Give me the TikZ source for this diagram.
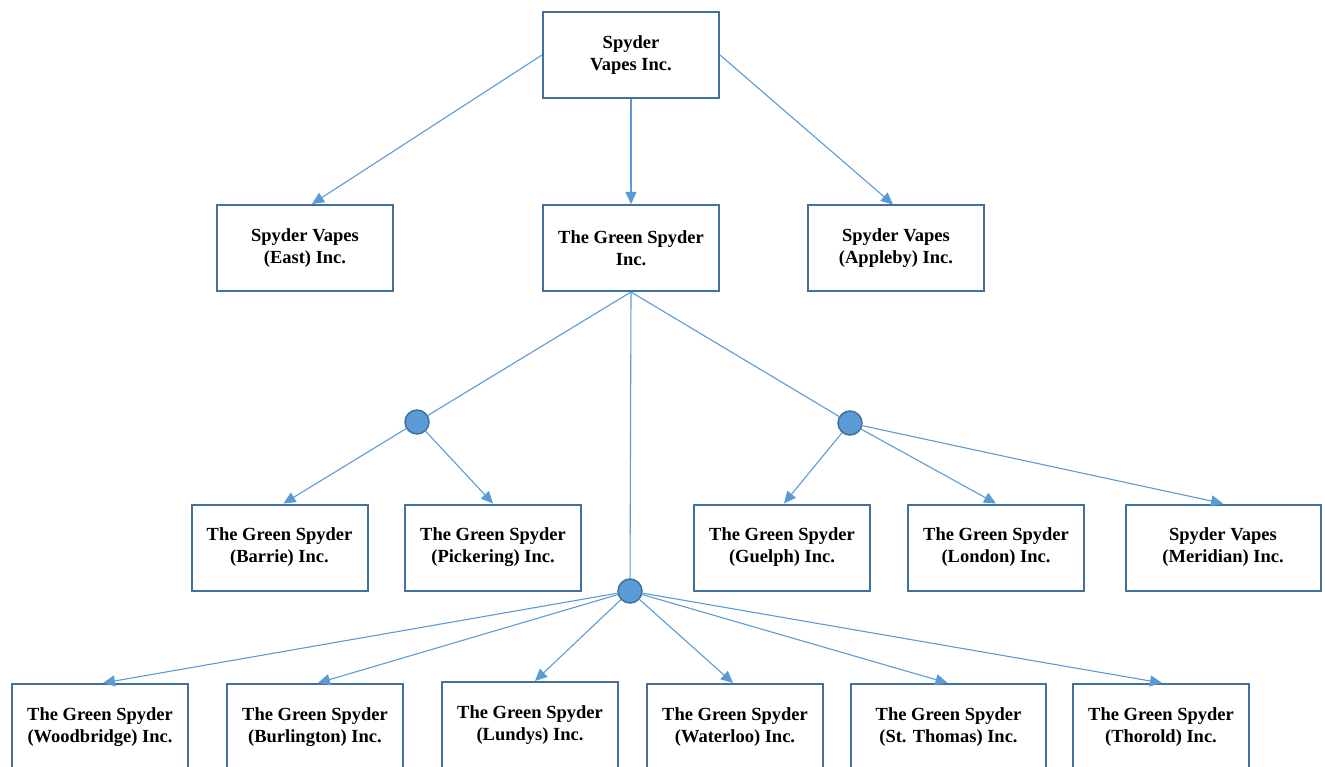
\documentclass[tikz,border=0pt]{standalone}
\usepackage{fontspec}
\setmainfont{Liberation Serif}
\usetikzlibrary{arrows.meta}
\definecolor{boxblue}{HTML}{41719C}
\definecolor{lineblue}{HTML}{5B9BD5}
\tikzset{
  orgbox/.style={draw=boxblue, line width=2pt, fill=white, minimum width=176pt, minimum height=86pt,
    inner sep=0pt, align=center, font=\fontsize{18.5}{22}\selectfont\bfseries},
  widebox/.style={orgbox, minimum width=195pt},
  hub/.style={circle, draw=boxblue, line width=1.5pt, fill=lineblue, minimum size=24pt, inner sep=0pt},
  link/.style={draw=lineblue, line width=1.1pt},
  arr/.style={link, -{Triangle[length=12pt,width=11pt]}}
}
\begin{document}
\begin{tikzpicture}[x=1pt,y=-1pt]
\useasboundingbox (0,0) rectangle (1325,767);
% level 0
\node[orgbox] (top) at (631,55) {Spyder\\Vapes Inc.};
% level 1
\node[orgbox] (east) at (305,248) {Spyder Vapes\\(East) Inc.};
\node[orgbox] (green) at (631,248) {The Green Spyder\\Inc.};
\node[orgbox] (appleby) at (896,248.5) {Spyder Vapes\\(Appleby) Inc.};
% hubs
\node[hub] (hl) at (417,422) {};
\node[hub] (hr) at (850,423) {};
\node[hub] (hb) at (630,591) {};
% level 2
\node[orgbox] (barrie) at (279.5,547.5) {The Green Spyder\\(Barrie) Inc.};
\node[orgbox] (pickering) at (493,547.5) {The Green Spyder\\(Pickering) Inc.};
\node[orgbox] (guelph) at (782,547.5) {The Green Spyder\\(Guelph) Inc.};
\node[orgbox] (london) at (996,547.5) {The Green Spyder\\(London) Inc.};
\node[widebox] (meridian) at (1223,547.5) {Spyder Vapes\\(Meridian) Inc.};
% level 3
\node[orgbox] (woodbridge) at (100,727) {The Green Spyder\\(Woodbridge) Inc.};
\node[orgbox] (burlington) at (315,727) {The Green Spyder\\(Burlington) Inc.};
\node[orgbox] (lundys) at (530,725) {The Green Spyder\\(Lundys) Inc.};
\node[orgbox] (waterloo) at (735,727) {The Green Spyder\\(Waterloo) Inc.};
\node[widebox] (stthomas) at (948.5,727) {The Green Spyder\\(St. Thomas) Inc.};
\node[orgbox] (thorold) at (1161,727) {The Green Spyder\\(Thorold) Inc.};
% connectors
\draw[arr] (top.west) -- ([xshift=7pt]east.north);
\draw[arr] (top.south) -- (green.north);
\draw[arr] (top.east) -- ([xshift=-3pt]appleby.north);
\draw[link] (green.south) -- (hl);
\draw[link] (green.south) -- (hr);
\draw[link] (green.south) -- (hb);
\draw[arr] (hl) -- ([xshift=4pt]barrie.north);
\draw[arr] (hl) -- (pickering.north);
\draw[arr] (hr) -- ([xshift=2pt]guelph.north);
\draw[arr] (hr) -- (london.north);
\draw[arr] (hr) -- (meridian.north);
\draw[arr] (hb) -- ([xshift=3pt]woodbridge.north);
\draw[arr] (hb) -- ([xshift=3pt]burlington.north);
\draw[arr] (hb) -- ([xshift=5pt]lundys.north);
\draw[arr] (hb) -- ([xshift=-2pt]waterloo.north);
\draw[arr] (hb) -- ([xshift=-1pt]stthomas.north);
\draw[arr] (hb) -- ([xshift=1pt]thorold.north);
\end{tikzpicture}
\end{document}
